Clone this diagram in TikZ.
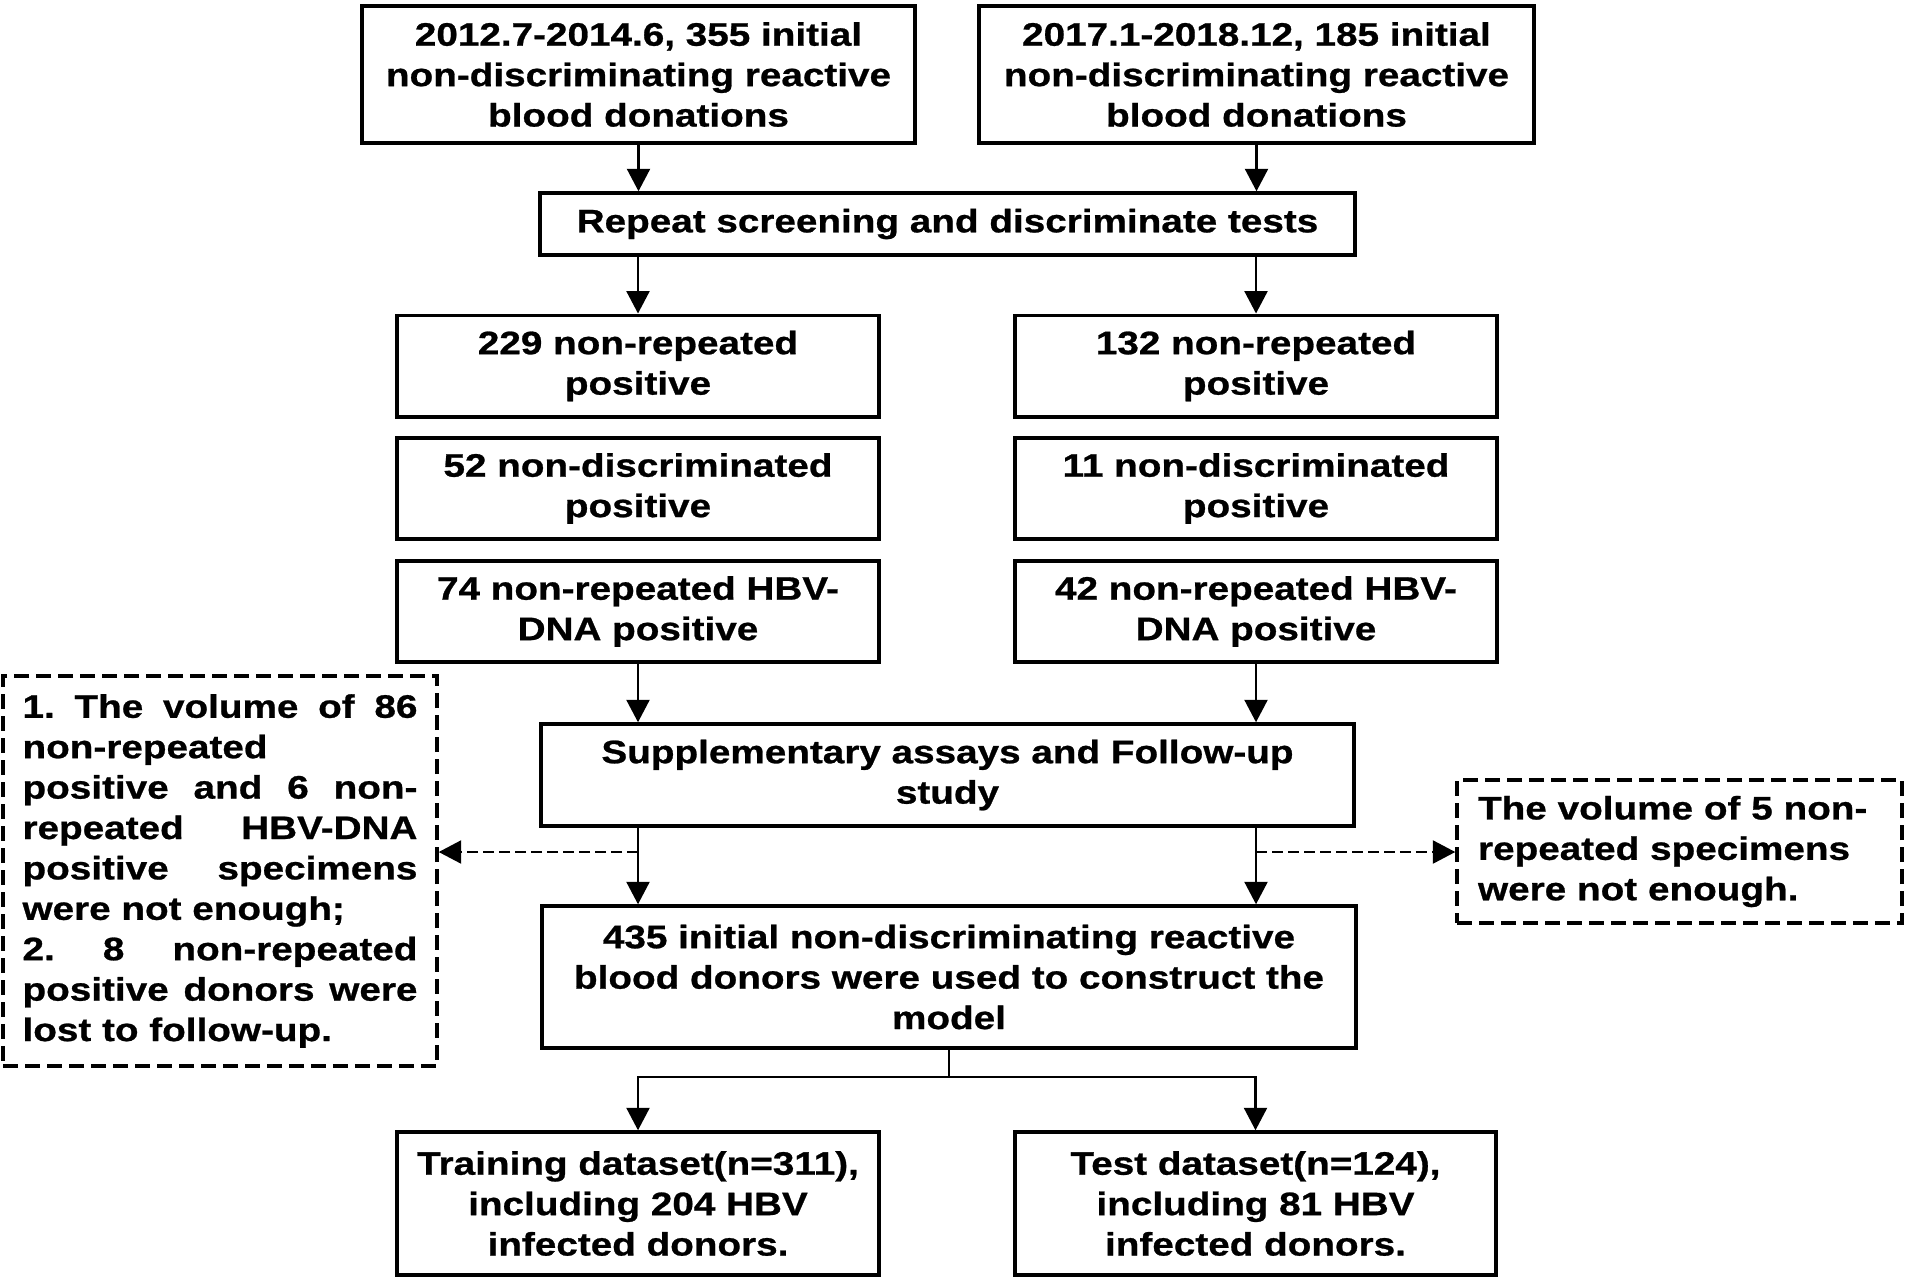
\documentclass[tikz,border=0pt]{standalone}
\usepackage{fontspec}
\setmainfont{Liberation Sans}[FakeStretch=1.19, BoldFeatures={FakeBold=0.8}]
\usetikzlibrary{arrows.meta}
\newcommand{\flowfont}{\fontsize{18.5}{23}\selectfont\bfseries\frenchspacing}
\tikzset{
  box/.style={draw, line width=2pt, align=center, inner sep=0pt, font=\flowfont},
  colbox/.style={box, minimum width=9.64cm, minimum height=2.03cm},
  notebox/.style={draw, line width=2pt, dash pattern=on 0.3cm off 0.14cm, font=\flowfont, inner ysep=0pt},
  arr/.style={line width=1.4pt, -{Triangle[length=0.45cm,width=0.46cm]}},
  dasharr/.style={arr, dash pattern=on 0.22cm off 0.1cm}
}
\begin{document}
\begin{tikzpicture}[x=0.02cm, y=-0.02cm]
  \useasboundingbox (0,0) rectangle (1905,1278);

  % top row
  \node[box, minimum width=11.06cm, minimum height=2.74cm] (early) at (638.5,74.5) {2012.7-2014.6, 355 initial\\non-discriminating reactive\\blood donations};
  \node[box, minimum width=11.1cm, minimum height=2.74cm] (late) at (1256.5,74.5) {2017.1-2018.12, 185 initial\\non-discriminating reactive\\blood donations};
  \node[box, minimum width=16.3cm, minimum height=1.24cm] (repeat) at (947.5,224) {Repeat screening and discriminate tests};

  % left column
  \node[colbox] (lrep) at (638,366) {229 non-repeated\\positive};
  \node[colbox] (ldisc) at (638,488.5) {52 non-discriminated\\positive};
  \node[colbox] (ldna) at (638,611.5) {74 non-repeated HBV-\\DNA positive};

  % right column
  \node[colbox] (rrep) at (1256,366) {132 non-repeated\\positive};
  \node[colbox] (rdisc) at (1256,488.5) {11 non-discriminated\\positive};
  \node[colbox] (rdna) at (1256,611.5) {42 non-repeated HBV-\\DNA positive};

  \node[box, minimum width=16.26cm, minimum height=2.04cm] (supp) at (947.5,775) {Supplementary assays and Follow-up\\study};
  \node[box, minimum width=16.28cm, minimum height=2.84cm] (model) at (949,977) {435 initial non-discriminating reactive\\blood donors were used to construct the\\model};

  % excluded specimens
  \node[notebox, minimum width=8.68cm, minimum height=7.8cm, text width=7.9cm, inner xsep=0.39cm, align=justify] (lnote) at (220,871)
    {1. The volume of 86\linebreak non-repeated\newline positive and 6 non-\linebreak repeated HBV-DNA\linebreak positive specimens\linebreak were not enough;\newline 2. 8 non-repeated\linebreak positive donors were\linebreak lost to follow-up.};
  \node[notebox, minimum width=8.9cm, minimum height=2.86cm, text width=8.06cm, inner xsep=0.42cm, align=left] (rnote) at (1679.5,851.5)
    {The volume of 5 non-\\repeated specimens\\were not enough.};

  % datasets
  \node[box, minimum width=9.64cm, minimum height=2.86cm] (train) at (638,1203.5) {Training dataset(n=311),\\including 204 HBV\\infected donors.};
  \node[box, minimum width=9.62cm, minimum height=2.86cm] (test) at (1255.5,1203.5) {Test dataset(n=124),\\including 81 HBV\\infected donors.};

  \draw[arr] (early) -- (early |- repeat.north);
  \draw[arr] (late) -- (late |- repeat.north);
  \draw[arr] (repeat.south -| lrep) -- (lrep);
  \draw[arr] (repeat.south -| rrep) -- (rrep);
  \draw[arr] (ldna) -- (ldna |- supp.north);
  \draw[arr] (rdna) -- (rdna |- supp.north);
  \draw[arr] (supp.south -| ldna) -- (ldna |- model.north);
  \draw[arr] (supp.south -| rdna) -- (rdna |- model.north);

  \coordinate (lsplit) at (638,852);
  \coordinate (rsplit) at (1256,852);
  \draw[dasharr] (lsplit) -- (lsplit -| lnote.east);
  \draw[dasharr] (rsplit) -- (rsplit -| rnote.west);

  \coordinate (fork) at (949,1077);
  \draw[line width=1.4pt] (model.south) -- (fork);
  \draw[arr] (fork) -| (train);
  \draw[arr] (fork) -| (test);
\end{tikzpicture}
\end{document}
